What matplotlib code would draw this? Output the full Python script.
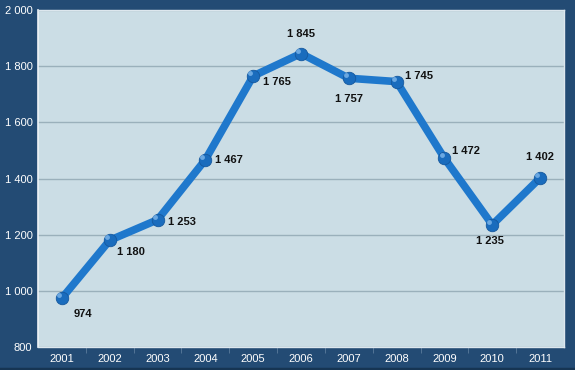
import matplotlib
matplotlib.use("Agg")
import matplotlib.pyplot as plt

years = ["2001", "2002", "2003", "2004", "2005", "2006", "2007", "2008", "2009", "2010", "2011"]
values = [974, 1180, 1253, 1467, 1765, 1845, 1757, 1745, 1472, 1235, 1402]
label_offsets = [(21, -16), (21, -12), (24, -2), (24, 0), (24, -6), (0, 20),
                 (0, -21), (22, 6), (22, 7), (-2, -16), (0, 21)]
yticks = [800, 1000, 1200, 1400, 1600, 1800, 2000]

def fmt(v):
    s = f"{v:,}".replace(",", " ")
    return s

plt.rcParams['font.family'] = ['Liberation Sans', 'DejaVu Sans']

fig = plt.figure(figsize=(5.75, 3.7), dpi=100)
fig.patch.set_facecolor('#234b74')
ax = fig.add_axes([38/575, 1 - 347/370, (564-38)/575, (347-10)/370])
ax.set_facecolor('#cbdde5')

x = list(range(len(years)))
ax.plot(x, values, color='#1f78cc', lw=5.5, solid_joinstyle='round', solid_capstyle='round', zorder=3)
ax.plot(x, values, 'o', ms=9, color='#1a6cbd', mec='#15589e', mew=0.6, zorder=4)
ax.plot([xi - 0.06 for xi in x], [v + 10 for v in values], 'o', ms=3.5, color='#7fb8ec', mew=0, zorder=5, alpha=0.8)

for xi, v, (dx, dy) in zip(x, values, label_offsets):
    ax.annotate(fmt(v), (xi, v), xytext=(dx, dy), textcoords='offset pixels',
                ha='center', va='center', fontsize=8, fontweight='bold', color='#111111', zorder=6)

ax.set_xlim(-0.5, len(years) - 0.5)
ax.set_ylim(800, 2000)
ax.set_yticks(yticks)
ax.set_yticklabels([fmt(v) for v in yticks])
ax.set_xticks(x)
ax.set_xticklabels(years)
ax.set_xticks([xi + 0.5 for xi in x[:-1]], minor=True)
ax.grid(axis='y', color='#9ab0bb', lw=1)
ax.set_axisbelow(True)
ax.tick_params(axis='y', length=0, colors='white', labelsize=8, pad=4)
ax.tick_params(axis='x', which='major', length=0, colors='white', labelsize=8, pad=5)
ax.tick_params(axis='x', which='minor', length=4, color='#5b7c9c', direction='out')
for s in ax.spines.values():
    s.set_color('#dde7ee')
    s.set_linewidth(1.0)
ax.spines['left'].set_color('#eef3f6')
ax.spines['left'].set_linewidth(1.2)

fig.add_artist(plt.Line2D([0, 1], [1.5/370, 1.5/370], color='#163553', lw=2.5, transform=fig.transFigure))

fig.savefig('out.png', dpi=100, facecolor=fig.get_facecolor())
